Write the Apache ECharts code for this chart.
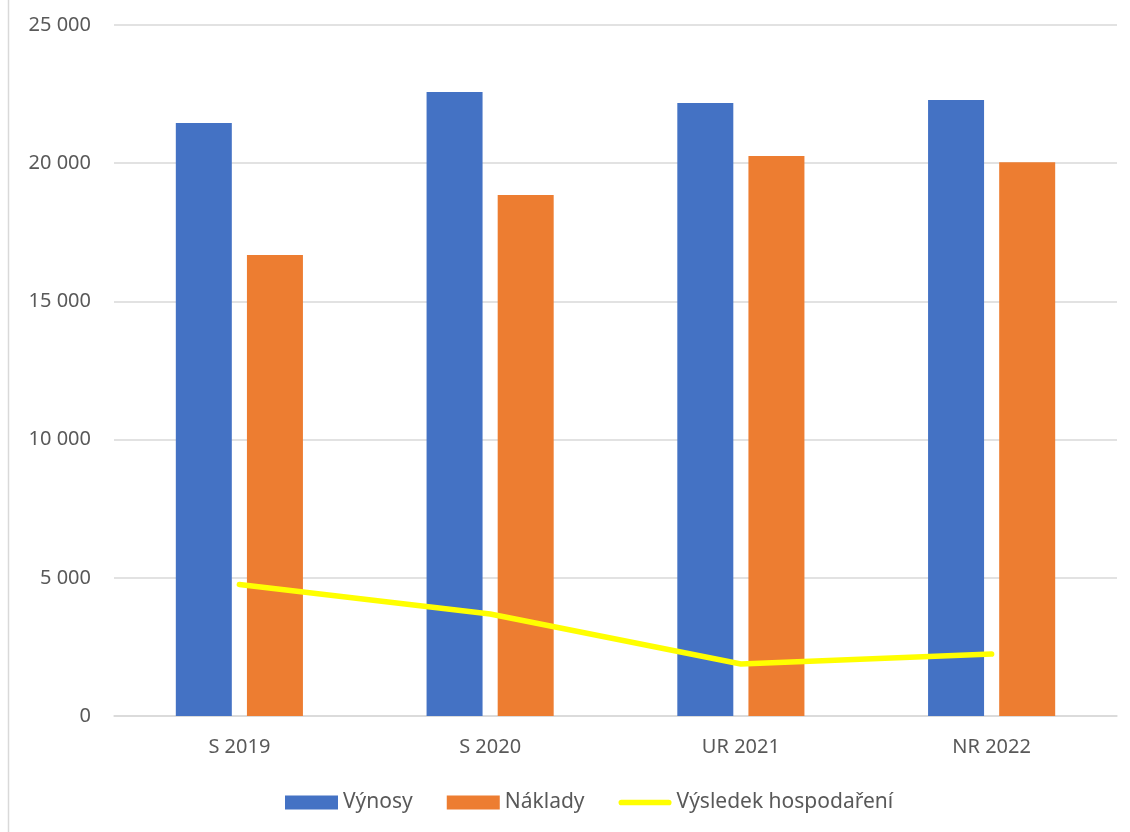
<!DOCTYPE html>
<html>
<head>
<meta charset="utf-8">
<script src="https://cdn.jsdelivr.net/npm/echarts@6/dist/echarts.min.js"></script>
<style>
html,body{margin:0;padding:0;background:#fff;}
#chart{width:1130px;height:832px;}
</style>
</head>
<body>
<div id="chart"></div>
<script>
const categories = ['S 2019', 'S 2020', 'UR 2021', 'NR 2022'];
const vynosy = [21450, 22580, 22180, 22290];
const naklady = [16680, 18850, 20260, 20030];
const vysledek = [4760, 3690, 1880, 2240];
const seriesNames = ['Výnosy', 'Náklady', 'Výsledek hospodaření'];

const fmt = v => String(v).replace(/\B(?=(\d{3})+(?!\d))/g, ' ');
const font = '"Noto Sans", "Open Sans", sans-serif';

const chart = echarts.init(document.getElementById('chart'), null, {renderer: 'canvas'});
chart.setOption({
  animation: false,
  backgroundColor: '#ffffff',
  textStyle: {fontFamily: font},
  graphic: [{
    type: 'line',
    shape: {x1: 8.5, y1: 0, x2: 8.5, y2: 832},
    style: {stroke: '#d9d9d9', lineWidth: 1.5}
  }],
  grid: {left: 114, right: 13, top: 25, bottom: 116, containLabel: false},
  legend: {
    top: 787,
    left: 280,
    itemWidth: 53,
    itemHeight: 14,
    itemGap: 34,
    textStyle: {color: '#595959', fontSize: 21, fontFamily: font},
    data: [
      {name: seriesNames[0], icon: 'rect'},
      {name: seriesNames[1], icon: 'rect'},
      {name: seriesNames[2], icon: 'path://M3,0 H53 A3,3 0 0 1 53,6 H3 A3,3 0 0 1 3,0 Z'}
    ]
  },
  xAxis: {
    type: 'category',
    data: categories,
    axisLine: {lineStyle: {color: '#d9d9d9', width: 1.5}},
    axisTick: {show: false},
    axisLabel: {color: '#595959', fontSize: 20, margin: 21, fontFamily: font}
  },
  yAxis: {
    type: 'value',
    min: 0,
    max: 25000,
    interval: 5000,
    axisLine: {show: false},
    axisTick: {show: false},
    splitLine: {lineStyle: {color: '#d9d9d9', width: 1.5}},
    axisLabel: {color: '#595959', fontSize: 20, margin: 23, fontFamily: font, formatter: fmt}
  },
  series: [
    {
      name: seriesNames[0], type: 'bar', data: vynosy,
      barWidth: 56, barGap: '27%',
      itemStyle: {color: '#4472C4'}
    },
    {
      name: seriesNames[1], type: 'bar', data: naklady,
      barWidth: 56,
      itemStyle: {color: '#ED7D31'}
    },
    {
      name: seriesNames[2], type: 'line', data: vysledek,
      showSymbol: false, symbol: 'none',
      lineStyle: {color: '#FFFF00', width: 5.5, cap: 'round'},
      itemStyle: {color: '#FFFF00'},
      z: 5
    }
  ]
});
</script>
</body>
</html>
